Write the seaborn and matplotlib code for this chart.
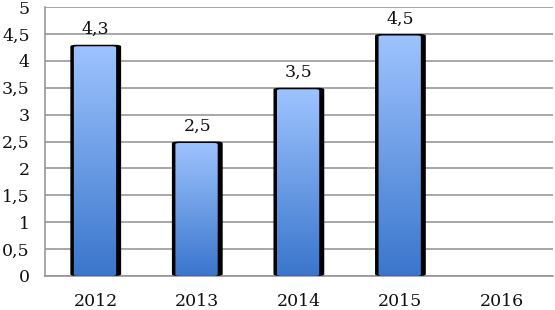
import numpy as np
import pandas as pd
import matplotlib
matplotlib.use("Agg")
import matplotlib.pyplot as plt
import seaborn as sns
from matplotlib.patches import FancyBboxPatch
from matplotlib.colors import LinearSegmentedColormap
from matplotlib.ticker import FuncFormatter, MultipleLocator, FixedLocator

# ---- data ----
years = ["2012", "2013", "2014", "2015", "2016"]
values = [4.3, 2.5, 3.5, 4.5]          # 2016 has no value
value_labels = ["4,3", "2,5", "3,5", "4,5"]

df = pd.DataFrame({"year": years[:len(values)], "value": values})

sns.set_style("white")
plt.rcParams["font.family"] = ["DejaVu Serif"]

fig = plt.figure(figsize=(5.55, 3.10), dpi=100)
ax = fig.add_axes([0.081, 0.11, 0.915, 0.867])

sns.barplot(data=df, x="year", y="value", order=years, color="black",
            width=0.5, ax=ax, zorder=3, saturation=1)

ax.set_xlim(-0.5, 4.5)
ax.set_ylim(0, 5)
ax.set_xlabel("")
ax.set_ylabel("")

# gradient fill on each bar (light top -> darker bottom)
grad_cmap = LinearSegmentedColormap.from_list("bluegrad", ["#3a76cc", "#9fc4ff"])
grad = np.linspace(0, 1, 256).reshape(-1, 1)

px_x = 0.915 * 555 / 5.0   # pixels per category
px_y = 0.867 * 310 / 5.0   # pixels per unit
aspect = px_x / px_y

for bar in ax.patches:
    x0, w, h = bar.get_x(), bar.get_width(), bar.get_height()
    bar.set_visible(False)
    # black frame/shadow
    frame = FancyBboxPatch((x0, 0), w, h,
                           boxstyle="round,pad=0,rounding_size=0.06",
                           mutation_aspect=1 / aspect,
                           facecolor="black", edgecolor="none", zorder=3)
    ax.add_patch(frame)
    # inner gradient, inset a few pixels on the sides
    inset_l = 3.5 / px_x
    inset_r = 5.0 / px_x
    inset_t = 1.5 / px_y
    inner = FancyBboxPatch((x0 + inset_l, 0), w - inset_l - inset_r, h - inset_t,
                           boxstyle="round,pad=0,rounding_size=0.04",
                           mutation_aspect=1 / aspect,
                           facecolor="none", edgecolor="none", zorder=4)
    ax.add_patch(inner)
    im = ax.imshow(grad, cmap=grad_cmap, aspect="auto", origin="lower",
                   extent=[x0, x0 + w, 0, h], zorder=4)
    im.set_clip_path(inner)

# value labels above bars
for i, (v, lab) in enumerate(zip(values, value_labels)):
    ax.text(i, v + 0.12, lab, ha="center", va="bottom", fontsize=12.5,
            color="#111111", zorder=5)

# axes styling
ax.yaxis.set_major_locator(MultipleLocator(0.5))
ax.yaxis.set_major_formatter(FuncFormatter(lambda v, p: f"{v:g}".replace(".", ",")))
ax.grid(axis="y", color="#8f8f8f", linewidth=1.1, zorder=0)
ax.set_axisbelow(True)

for s in ["top", "right"]:
    ax.spines[s].set_visible(False)
ax.spines["left"].set_color("#8f8f8f")
ax.spines["bottom"].set_color("#8f8f8f")
ax.spines["left"].set_linewidth(1.1)
ax.spines["bottom"].set_linewidth(1.1)

ax.xaxis.set_minor_locator(FixedLocator(np.arange(-0.5, 5, 1)))
ax.tick_params(axis="x", which="major", length=0, labelsize=12.5, pad=12,
               labelcolor="#111111")
ax.tick_params(axis="x", which="minor", length=5, width=1.1, color="#8f8f8f",
               direction="out")
ax.tick_params(axis="y", which="major", length=7, width=1.1, color="#8f8f8f",
               labelsize=12.5, pad=4, labelcolor="#111111")

fig.savefig("out.png", dpi=100)
